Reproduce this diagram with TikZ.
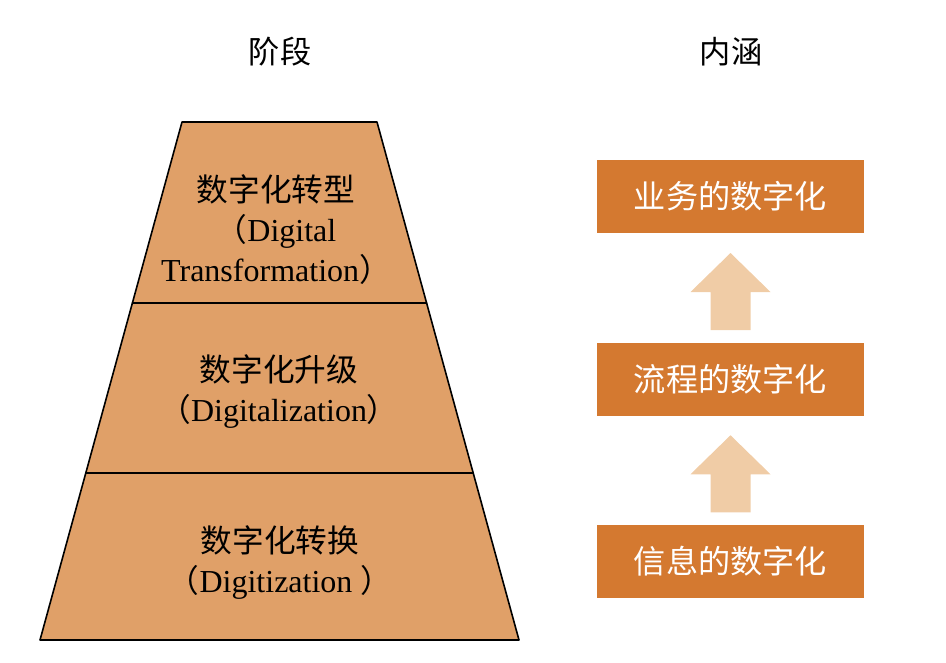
\documentclass[tikz,border=0pt]{standalone}
\usepackage{fontspec}
\setmainfont{Liberation Serif}
\newfontfamily\cjk[Scale=0.99]{Noto Sans CJK SC}
\usetikzlibrary{calc}

\definecolor{layerfill}{RGB}{224,160,104}
\definecolor{boxfill}{RGB}{212,121,48}
\definecolor{arrowfill}{RGB}{240,204,166}

\begin{document}
\begin{tikzpicture}[x=1pt,y=-1pt,
  layer/.style={fill=layerfill, draw=black, line width=1.6pt, line join=round},
  layertext/.style={align=center, font=\fontsize{32}{40}\selectfont},
  title/.style={font=\fontsize{31.5}{36}\selectfont\cjk},
  meaning/.style={fill=boxfill, minimum width=267pt, minimum height=73pt, inner sep=0pt,
    text=white, font=\fontsize{32.5}{36}\selectfont\cjk},
  blockarrow/.style={fill=arrowfill}]
\useasboundingbox (0,0) rectangle (946,662);

% pyramid of stages
\coordinate (t1) at (182,122);   \coordinate (t2) at (377,122);
\coordinate (m1) at (132.4,303); \coordinate (m2) at (426.6,303);
\coordinate (l1) at (85.8,473);  \coordinate (l2) at (473.2,473);
\coordinate (b1) at (40,640);    \coordinate (b2) at (519,640);
\draw[layer] (t1) -- (t2) -- (m2) -- (m1) -- cycle;
\draw[layer] (m1) -- (m2) -- (l2) -- (l1) -- cycle;
\draw[layer] (l1) -- (l2) -- (b2) -- (b1) -- cycle;

\node[title] (stage) at (280,52) {阶段};
\node[title] (content) at (731,52) {内涵};

\node[layertext] (transform) at (276,230) {{\cjk 数字化转型}\\{\cjk （}Digital\\Transformation{\cjk ）}};
\node[layertext] (upgrade) at (279,392) {{\cjk 数字化升级}\\{\cjk （}Digitalization{\cjk ）}};
\node[layertext] (convert) at (280,563) {{\cjk 数字化转换}\\{\cjk （}Digitization {\cjk ）}};

% what each stage means
\node[meaning] (biz) at (730.5,196.5) {业务的数字化};
\node[meaning] (flow) at (730.5,379.5) {流程的数字化};
\node[meaning] (info) at (730.5,561) {信息的数字化};

\coordinate (up1) at ($(flow.north)!0.5!(biz.south)$);
\coordinate (up2) at ($(info.north)!0.5!(flow.south)$);
\foreach \c in {up1,up2}
  \fill[blockarrow] (\c) ++(0,-35) -- ++(40,39) -- ++(-20,0) -- ++(0,38)
    -- ++(-40,0) -- ++(0,-38) -- ++(-20,0) -- cycle;
\end{tikzpicture}
\end{document}
